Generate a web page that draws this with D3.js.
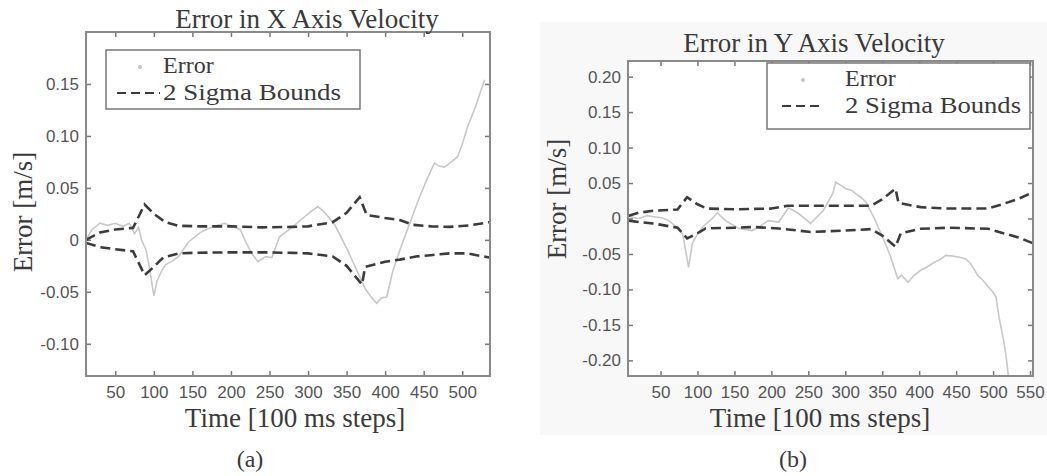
<!DOCTYPE html>
<html>
<head>
<meta charset="utf-8">
<script src="https://cdn.jsdelivr.net/npm/d3@7"></script>
<style>
  body { margin: 0; background: #fff; }
  svg { display: block; }
  .serif { font-family: "Liberation Serif", "Times New Roman", serif; fill: #3a3a3a; }
  .tick text { font-family: "Liberation Sans", Arial, sans-serif; fill: #555; }
</style>
</head>
<body>
<script>
// 数据：从图上读出来的估计值
// (a) X 方向速度误差
var errorA_t = [12, 20, 30, 40, 50, 60, 68, 75, 80, 85, 90, 95, 100, 104, 110, 115, 125, 132, 145, 160, 176, 192, 205, 212, 218, 226, 235, 245, 253, 263, 280, 295, 305, 313, 322, 335, 350, 363, 375, 382, 389, 395, 402, 410, 420, 432, 444, 454, 464, 470, 477, 486, 494, 500, 507, 513, 519, 524, 529];
var errorA_v = [0.0, 0.010, 0.016, 0.014, 0.016, 0.013, 0.016, 0.006, 0.012, -0.002, -0.010, -0.030, -0.054, -0.040, -0.030, -0.024, -0.020, -0.016, -0.002, 0.007, 0.0125, 0.016, 0.012, 0.010, 0.0, -0.012, -0.021, -0.016, -0.017, 0.003, 0.0125, 0.022, 0.028, 0.032, 0.026, 0.014, -0.008, -0.029, -0.048, -0.055, -0.061, -0.056, -0.055, -0.030, -0.008, 0.016, 0.040, 0.058, 0.074, 0.071, 0.070, 0.075, 0.080, 0.092, 0.109, 0.120, 0.132, 0.143, 0.154];
var sigmaUpA_t = [12, 30, 50, 73, 88, 100, 115, 132, 160, 200, 240, 280, 300, 332, 350, 367, 376, 400, 419, 436, 460, 484, 510, 535];
var sigmaUpA_v = [0.0, 0.007, 0.010, 0.0115, 0.034, 0.025, 0.017, 0.0135, 0.013, 0.013, 0.012, 0.0125, 0.013, 0.017, 0.026, 0.041, 0.024, 0.021, 0.019, 0.0145, 0.013, 0.0125, 0.014, 0.017];
var sigmaLoA_t = [12, 30, 50, 73, 88, 100, 112, 132, 150, 200, 240, 280, 300, 332, 350, 370, 374, 400, 419, 440, 462, 484, 506, 535];
var sigmaLoA_v = [-0.003, -0.007, -0.009, -0.011, -0.034, -0.026, -0.017, -0.013, -0.0125, -0.012, -0.012, -0.0125, -0.013, -0.016, -0.025, -0.043, -0.026, -0.021, -0.019, -0.016, -0.0145, -0.013, -0.013, -0.017];

// (b) Y 方向速度误差
var errorB_t = [7, 20, 32, 43, 52, 61, 74, 80, 84, 88, 93, 100, 107, 120, 127, 138, 156, 174, 183, 196, 210, 223, 237, 253, 270, 283, 287, 295, 301, 308, 314, 321, 328, 339, 350, 360, 371, 376, 385, 393, 402, 411, 420, 428, 436, 446, 456, 463, 470, 479, 486, 494, 500, 504, 508, 512, 515, 518, 521];
var errorB_v = [0.003, 0.0, 0.004, 0.002, 0.001, -0.003, -0.014, -0.022, -0.045, -0.069, -0.035, -0.022, -0.012, 0.0, 0.008, -0.003, -0.014, -0.017, -0.012, -0.003, -0.005, 0.015, 0.007, -0.007, 0.011, 0.035, 0.051, 0.046, 0.042, 0.040, 0.035, 0.030, 0.023, 0.001, -0.025, -0.050, -0.085, -0.080, -0.090, -0.080, -0.073, -0.068, -0.062, -0.058, -0.052, -0.053, -0.055, -0.057, -0.064, -0.080, -0.087, -0.097, -0.104, -0.111, -0.139, -0.160, -0.176, -0.198, -0.225];
var sigmaUpB_t = [7, 20, 40, 73, 86, 100, 113, 150, 200, 222, 260, 300, 335, 350, 368, 372, 402, 440, 493, 515, 535, 554];
var sigmaUpB_v = [0.004, 0.008, 0.011, 0.0127, 0.030, 0.020, 0.014, 0.013, 0.014, 0.018, 0.018, 0.018, 0.018, 0.027, 0.042, 0.022, 0.016, 0.014, 0.014, 0.021, 0.028, 0.037];
var sigmaLoB_t = [7, 20, 40, 73, 86, 98, 111, 150, 176, 210, 253, 300, 335, 350, 368, 375, 402, 440, 493, 515, 535, 554];
var sigmaLoB_v = [-0.003, -0.005, -0.007, -0.013, -0.028, -0.022, -0.014, -0.013, -0.012, -0.014, -0.019, -0.017, -0.015, -0.024, -0.040, -0.021, -0.0145, -0.013, -0.0145, -0.021, -0.027, -0.035];

var xTicksA = [50, 100, 150, 200, 250, 300, 350, 400, 450, 500];
var yTicksA = [-0.10, -0.05, 0, 0.05, 0.10, 0.15];
var xTicksB = [50, 100, 150, 200, 250, 300, 350, 400, 450, 500, 550];
var yTicksB = [-0.20, -0.15, -0.10, -0.05, 0, 0.05, 0.10, 0.15, 0.20];

var legendLabels = ['Error', '2 Sigma Bounds'];

var width = 1047;
var height = 476;

var svg = d3.select('body')
            .append('svg')
            .attr('width', width)
            .attr('height', height);

// (b) 的扫描底色
svg.append('rect')
   .attr('x', 540).attr('y', 22)
   .attr('width', 507).attr('height', 413)
   .attr('fill', '#f8f8f8');

// 原图用普通连字符，不用 unicode 减号
function yFmt(d) {
  return d === 0 ? '0' : d.toFixed(2);
}

function drawPanel(p) {
  var x = d3.scaleLinear().domain(p.xDomain).range([p.left, p.right]);
  var y = d3.scaleLinear().domain(p.yDomain).range([p.bottom, p.top]);

  var g = svg.append('g');

  g.append('rect')
   .attr('x', p.left).attr('y', p.top)
   .attr('width', p.right - p.left).attr('height', p.bottom - p.top)
   .attr('fill', '#fff');

  var clipId = 'clip-' + p.name;
  g.append('clipPath').attr('id', clipId)
   .append('rect')
   .attr('x', p.left).attr('y', p.top)
   .attr('width', p.right - p.left).attr('height', p.bottom - p.top);

  // 坐标轴，刻度朝里
  g.append('g')
   .attr('transform', 'translate(0,' + p.bottom + ')')
   .call(d3.axisBottom(x).tickValues(p.xTicks).tickSizeInner(-5).tickSizeOuter(0).tickPadding(10))
   .call(function(a){ a.select('.domain').remove(); });
  g.append('g')
   .attr('transform', 'translate(0,' + p.top + ')')
   .call(d3.axisTop(x).tickValues(p.xTicks).tickSizeInner(-5).tickSizeOuter(0).tickFormat(''))
   .call(function(a){ a.select('.domain').remove(); });
  g.append('g')
   .attr('transform', 'translate(' + p.left + ',0)')
   .call(d3.axisLeft(y).tickValues(p.yTicks).tickSizeInner(-5).tickSizeOuter(0).tickPadding(7).tickFormat(yFmt))
   .call(function(a){ a.select('.domain').remove(); });
  g.append('g')
   .attr('transform', 'translate(' + p.right + ',0)')
   .call(d3.axisRight(y).tickValues(p.yTicks).tickSizeInner(-5).tickSizeOuter(0).tickFormat(''))
   .call(function(a){ a.select('.domain').remove(); });

  g.selectAll('.tick line').attr('stroke', '#777').attr('stroke-width', 1.5);
  g.selectAll('.tick text').attr('font-size', 17);

  var line = d3.line()
               .x(function(d){ return x(d[0]); })
               .y(function(d){ return y(d[1]); });

  var plot = g.append('g').attr('clip-path', 'url(#' + clipId + ')');

  plot.append('path')
      .attr('d', line(d3.zip(p.errT, p.errV)))
      .attr('fill', 'none')
      .attr('stroke', '#c8c8c8')
      .attr('stroke-width', 1.6);

  [[p.upT, p.upV], [p.loT, p.loV]].forEach(function(s){
    plot.append('path')
        .attr('d', line(d3.zip(s[0], s[1])))
        .attr('fill', 'none')
        .attr('stroke', '#3c3c3c')
        .attr('stroke-width', 2.6)
        .attr('stroke-dasharray', '10,5');
  });

  g.append('rect')
   .attr('x', p.left).attr('y', p.top)
   .attr('width', p.right - p.left).attr('height', p.bottom - p.top)
   .attr('fill', 'none')
   .attr('stroke', '#8a8a8a')
   .attr('stroke-width', 2);

  // 标题和轴标题
  g.append('text').attr('class', 'serif')
   .attr('x', p.titleX).attr('y', p.titleY)
   .attr('text-anchor', 'middle').attr('font-size', 27)
   .text(p.title);
  g.append('text').attr('class', 'serif')
   .attr('x', p.xLabelX).attr('y', 427)
   .attr('text-anchor', 'middle').attr('font-size', 27)
   .text('Time [100 ms steps]');
  g.append('text').attr('class', 'serif')
   .attr('transform', 'translate(' + p.yLabelX + ',' + p.yLabelY + ') rotate(-90)')
   .attr('text-anchor', 'middle').attr('font-size', 27)
   .text('Error [m/s]');
  g.append('text').attr('class', 'serif')
   .attr('x', p.capX).attr('y', 467)
   .attr('text-anchor', 'middle').attr('font-size', 24)
   .attr('fill', '#111')
   .text(p.caption);

  // 图例
  var L = p.legend;
  g.append('rect')
   .attr('x', L.x).attr('y', L.y).attr('width', L.w).attr('height', L.h)
   .attr('fill', '#fff').attr('stroke', '#777').attr('stroke-width', 1.5);
  g.append('circle')
   .attr('cx', L.markX).attr('cy', L.y + 17).attr('r', 2)
   .attr('fill', '#c4c4c4');
  g.append('line')
   .attr('x1', L.dashX1).attr('x2', L.dashX2)
   .attr('y1', L.y + 43).attr('y2', L.y + 43)
   .attr('stroke', '#3c3c3c').attr('stroke-width', 2.2)
   .attr('stroke-dasharray', '9,5');
  g.selectAll('.legtext')
   .data(legendLabels)
   .enter()
   .append('text').attr('class', 'serif')
   .attr('x', L.textX)
   .attr('y', function(d, i){ return L.y + 23 + i * 27; })
   .attr('font-size', 24)
   .attr('textLength', function(d){ return d.length > 6 ? L.w2 : null; })
   .attr('lengthAdjust', 'spacingAndGlyphs')
   .text(function(d){ return d; });
}

drawPanel({
  name: 'a', left: 86, right: 490, top: 32, bottom: 376,
  xDomain: [12, 536], yDomain: [-0.131, 0.2],
  xTicks: xTicksA, yTicks: yTicksA,
  errT: errorA_t, errV: errorA_v,
  upT: sigmaUpA_t, upV: sigmaUpA_v, loT: sigmaLoA_t, loV: sigmaLoA_v,
  title: 'Error in X Axis Velocity', titleX: 307, titleY: 28,
  xLabelX: 295, yLabelX: 32, yLabelY: 212,
  caption: '(a)', capX: 250,
  legend: { x: 106, y: 50, w: 254, h: 59, w2: 178, markX: 140, dashX1: 117, dashX2: 160, textX: 163 }
});

drawPanel({
  name: 'b', left: 628, right: 1033, top: 61, bottom: 376,
  xDomain: [6, 554], yDomain: [-0.222, 0.222],
  xTicks: xTicksB, yTicks: yTicksB,
  errT: errorB_t, errV: errorB_v,
  upT: sigmaUpB_t, upV: sigmaUpB_v, loT: sigmaLoB_t, loV: sigmaLoB_v,
  title: 'Error in Y Axis Velocity', titleX: 814, titleY: 52,
  xLabelX: 820, yLabelX: 566, yLabelY: 199,
  caption: '(b)', capX: 793,
  legend: { x: 767, y: 63, w: 263, h: 66, w2: 176, markX: 803, dashX1: 782, dashX2: 823, textX: 845 }
});
</script>
</body>
</html>
